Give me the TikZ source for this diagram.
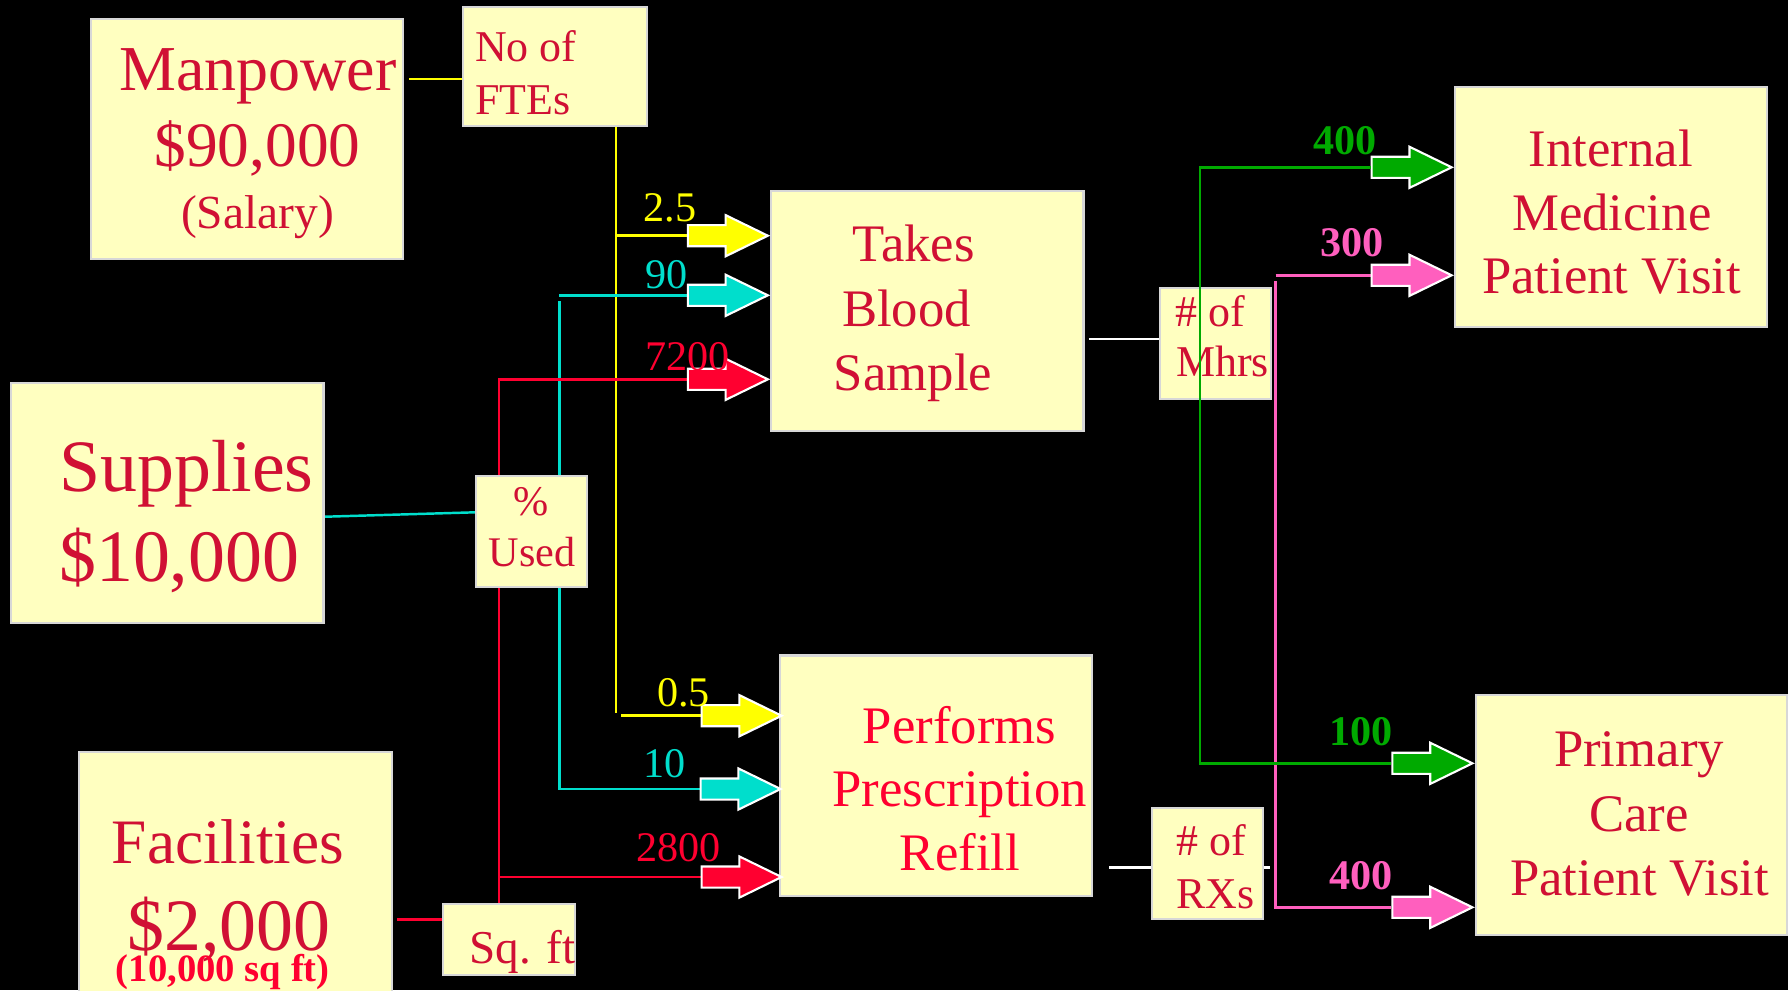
\documentclass[tikz,border=0pt]{standalone}
\usepackage{tikz}
\usepackage{fontspec}
\setmainfont{Liberation Serif}
\usetikzlibrary{shapes.arrows}
\pgfdeclarelayer{bg}
\pgfdeclarelayer{wires}
\pgfsetlayers{bg,wires,main}
\definecolor{boxfill}{RGB}{255,255,192}
\definecolor{boxline}{RGB}{215,215,215}
\definecolor{crimson}{RGB}{208,16,52}
\definecolor{brightred}{RGB}{255,0,48}
\definecolor{lyellow}{RGB}{255,255,0}
\definecolor{lcyan}{RGB}{0,222,204}
\definecolor{lred}{RGB}{255,0,48}
\definecolor{lgreen}{RGB}{0,170,0}
\definecolor{lpink}{RGB}{255,95,190}
\newcommand{\fsz}[1]{\fontsize{#1}{#1}\selectfont}
\begin{document}
\begin{tikzpicture}[x=0.01cm,y=-0.01cm,
  box/.style={draw=boxline, fill=boxfill, line width=0.6pt, inner sep=0pt},
  bigbox/.style={box, minimum width=3.12cm, minimum height=2.40cm},
  smallbox/.style={box, minimum width=1.11cm, minimum height=1.11cm},
  txt/.style={text=crimson, inner sep=0pt, anchor=base},
  txtl/.style={txt, anchor=base west},
  wire/.style={line width=0.7pt},
  barrow/.style={single arrow, draw=white, line width=0.6pt, fill=#1,
    minimum height=0.8cm, inner xsep=0pt, inner ysep=0.095cm,
    single arrow head extend=0.1cm, single arrow tip angle=52, anchor=tip},
  lab/.style={inner sep=0pt, anchor=base west, font=\fsz{12}},
  blab/.style={inner sep=0pt, anchor=base west, font=\fsz{12}\bfseries},
]
\useasboundingbox (0,0) rectangle (1788,990);
\begin{pgfonlayer}{bg}
\fill[black] (0,0) rectangle (1788,990);
\end{pgfonlayer}
\clip (0,0) rectangle (1788,990);

% ---------- boxes ----------
\node[bigbox, minimum width=3.115cm, minimum height=2.397cm] (mp) at (247.25,139.15) {};
\node[box, minimum width=1.84cm, minimum height=1.184cm] (fte) at (555,66.5) {};
\node[bigbox, minimum width=3.124cm] (sup) at (167.2,503.3) {};
\node[smallbox] (used) at (531.45,531.65) {};
\node[bigbox, minimum height=2.6cm] (fac) at (235.5,881.7) {};
\node[box, minimum width=1.32cm, minimum height=0.71cm] (sqft) at (509,939.5) {};
\node[bigbox] (takes) at (927.4,311.35) {};
\node[bigbox] (perf) at (935.9,775.5) {};
\node[smallbox] (mhrs) at (1215.5,343.15) {};
\node[smallbox] (rxs) at (1207.5,863.5) {};
\node[bigbox] (imed) at (1611.2,207.15) {};
\node[bigbox, minimum width=3.107cm] (pcare) at (1631.35,815.35) {};

% ---------- box texts ----------
\node[txt, font=\fsz{18.2}] (mp1) at (258,90.7) {Manpower};
\node[txt, font=\fsz{18}] (mp2) at (257.5,166.7) {\$90,000};
\node[txt, font=\fsz{13.5}] (mp3) at (257.5,228) {(Salary)};
\node[txtl, font=\fsz{12.5}] (fte1) at (474.5,61.7) {No of};
\node[txtl, font=\fsz{12.5}] (fte2) at (474.5,114) {FTEs};
\node[txtl, font=\fsz{21}] (sup1) at (58.5,491.7) {Supplies};
\node[txtl, font=\fsz{21}] (sup2) at (58.5,581.7) {\$10,000};
\node[txt, font=\fsz{12}] (used1) at (531.5,515) {\%};
\node[txt, font=\fsz{12}] (used2) at (532,566.7) {Used};
\node[txt, font=\fsz{18}] (fac1) at (228,863.3) {Facilities};
\node[txt, font=\fsz{21}] (fac2) at (229,950) {\$2,000};
\node[txt, font=\fsz{11}\bfseries, text=brightred] (fac3) at (222.8,981.7) {(10,000 sq ft)};
\node[txtl, font=\fsz{13.4}] (sq1) at (468.7,963.3) {Sq. ft};
\node[txt, font=\fsz{15}] (tk1) at (913.6,261.7) {Takes};
\node[txt, font=\fsz{15}] (tk2) at (906.5,326.7) {Blood};
\node[txt, font=\fsz{15}] (tk3) at (913,390.7) {Sample};
\node[txt, font=\fsz{15}, text=brightred] (pf1) at (959.6,743.3) {Performs};
\node[txt, font=\fsz{15}, text=brightred] (pf2) at (959.8,806.7) {Prescription};
\node[txt, font=\fsz{15}, text=brightred] (pf3) at (960,870) {Refill};
\node[txtl, font=\fsz{12.5}] (mh1) at (1174.6,326) {\# of};
\node[txtl, font=\fsz{12.5}] (mh2) at (1175.5,376.7) {Mhrs};
\node[txtl, font=\fsz{12.5}] (rx1) at (1175.5,855.7) {\# of};
\node[txtl, font=\fsz{12.5}] (rx2) at (1175.5,908.3) {RXs};
\node[txt, font=\fsz{15}] (im1) at (1610.8,166.7) {Internal};
\node[txt, font=\fsz{15}] (im2) at (1611.8,230) {Medicine};
\node[txt, font=\fsz{15}] (im3) at (1611.6,293.3) {Patient Visit};
\node[txt, font=\fsz{15}] (pc1) at (1639,766.7) {Primary};
\node[txt, font=\fsz{15}] (pc2) at (1639,831) {Care};
\node[txt, font=\fsz{15}] (pc3) at (1639.7,895) {Patient Visit};

% ---------- block arrows ----------
\node[barrow=lyellow] (ya1) at (takes.west |- 0,235.7) {};
\node[barrow=lcyan]   (ca1) at (takes.west |- 0,295.3) {};
\node[barrow=lred]    (ra1) at (takes.west |- 0,379.3) {};
\node[barrow=lyellow] (ya2) at (784,715.7) {};
\node[barrow=lcyan]   (ca2) at (783,789) {};
\node[barrow=lred]    (ra2) at (784,877) {};
\node[barrow=lgreen]  (ga1) at (imed.west |- 0,167.3) {};
\node[barrow=lpink]   (pa1) at (imed.west |- 0,275.3) {};
\node[barrow=lgreen]  (ga2) at (pcare.west |- 0,763.3) {};
\node[barrow=lpink]   (pa2) at (pcare.west |- 0,907.3) {};

% ---------- value labels ----------
\node[lab, text=lyellow] (l25) at (643,221.7) {2.5};
\node[lab, text=lcyan]   (l90) at (644.6,288.3) {90};
\node[lab, text=lred]    (l7200) at (644.6,370) {7200};
\node[lab, text=lyellow] (l05) at (656.6,706) {0.5};
\node[lab, text=lcyan]   (l10) at (643,777.7) {10};
\node[lab, text=lred]    (l2800) at (635.6,861.7) {2800};
\node[blab, text=lgreen] (l400a) at (1312.8,154) {400};
\node[blab, text=lpink]  (l300) at (1319.4,256.7) {300};
\node[blab, text=lgreen] (l100) at (1329,745) {100};
\node[blab, text=lpink]  (l400b) at (1329,889.3) {400};

% ---------- junction coordinates ----------
\coordinate (yj0) at (409,79);
\coordinate (yt) at (616,125.7);
\coordinate (yk1) at (616,235.7);
\coordinate (yb) at (616,713);
\coordinate (yk2) at (621,715.7);
\coordinate (cj0) at (325,516.7);
\coordinate (ck1) at (559.4,295.3);
\coordinate (cb) at (559.4,789);
\coordinate (rk1) at (499,379.3);
\coordinate (rk2) at (499,877);
\coordinate (rj0) at (397,919.3);
\coordinate (wj1) at (1089,339);
\coordinate (wj2) at (1109,867.3);
\coordinate (wj3) at (1270,867.3);
\coordinate (gk1) at (1200,167.3);
\coordinate (gk2) at (1200,763.3);
\coordinate (pk1) at (1275.5,275.3);
\coordinate (pt) at (1275.5,281);
\coordinate (pk2) at (1275.5,907.3);

% ---------- connectors ----------
\begin{pgfonlayer}{wires}
\draw[wire, lyellow] (yj0) -- (yj0 -| fte.west);
\draw[wire, lyellow] (yt) -- (yb);
\draw[wire, lyellow] (yk1) -- (ya1.tail);
\draw[wire, lyellow] (yk2) -- (ya2.tail);
\draw[wire, lcyan] (cj0) -- (used.west |- 0,512.3);
\draw[wire, lcyan] (used.north -| ck1) -- ([yshift=-0.06cm]ck1);
\draw[wire, lcyan] (ck1) -- (ca1.tail);
\draw[wire, lcyan] (used.south -| cb) -- (cb) -- (ca2.tail);
\draw[wire, lred] (sqft.north -| rk1) -- (rk1) -- (ra1.tail);
\draw[wire, lred] (rk2) -- (ra2.tail);
\draw[wire, lred] (rj0) -- (rj0 -| sqft.west);
\draw[wire, white] (wj1) -- (wj1 -| mhrs.west);
\draw[wire, white] (wj2) -- (wj3);
\draw[wire, lpink] (pk1) -- (pa1.tail);
\draw[wire, lpink] (pt) -- (pk2) -- (pa2.tail);
\end{pgfonlayer}
\draw[wire, lgreen] (ga1.tail) -- (gk1) -- (gk2) -- (ga2.tail);
\end{tikzpicture}
\end{document}
